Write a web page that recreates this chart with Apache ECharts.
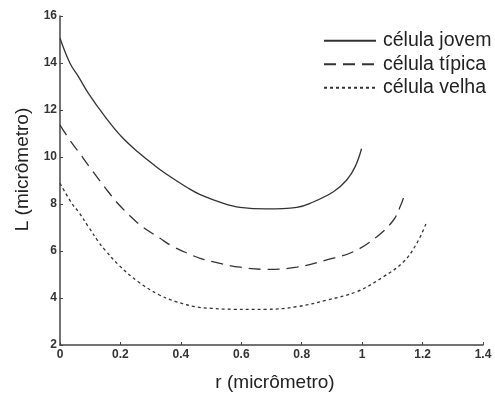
<!DOCTYPE html>
<html>
<head>
<meta charset="utf-8">
<script src="https://cdn.jsdelivr.net/npm/echarts@6/dist/echarts.min.js"></script>
<style>html,body{margin:0;padding:0;background:#fff}#c{width:495px;height:399px}</style>
</head>
<body>
<div id="c"></div>
<script>
var seriesNames = ['célula jovem', 'célula típica', 'célula velha'];
var xTicks = [0, 0.2, 0.4, 0.6, 0.8, 1, 1.2, 1.4];
var yTicks = [2, 4, 6, 8, 10, 12, 14, 16];

var jovem = [[0,15.05],[0.033,13.99],[0.061,13.42],[0.094,12.71],[0.149,11.72],[0.204,10.86],[0.259,10.2],[0.315,9.62],[0.348,9.31],[0.425,8.67],[0.464,8.4],[0.541,8.03],[0.596,7.86],[0.684,7.79],[0.784,7.86],[0.828,8.03],[0.905,8.52],[0.949,9.02],[0.977,9.59],[0.998,10.35]];
var tipica = [[0,11.36],[0.039,10.6],[0.061,10.23],[0.105,9.45],[0.149,8.7],[0.193,8.0],[0.248,7.3],[0.276,7.0],[0.331,6.54],[0.364,6.26],[0.419,5.92],[0.464,5.69],[0.53,5.47],[0.596,5.31],[0.684,5.22],[0.784,5.31],[0.883,5.62],[0.971,5.97],[1.049,6.61],[1.104,7.32],[1.126,7.89],[1.142,8.46]];
var velha = [[0,8.88],[0.039,8.03],[0.061,7.67],[0.094,7.03],[0.127,6.4],[0.149,6.04],[0.193,5.42],[0.259,4.69],[0.326,4.15],[0.381,3.86],[0.447,3.63],[0.502,3.56],[0.574,3.52],[0.684,3.52],[0.784,3.63],[0.883,3.91],[0.982,4.27],[1.071,4.91],[1.137,5.54],[1.181,6.33],[1.212,7.18]];

var ink = '#333';
var font = 'Liberation Sans, Arial, Helvetica';
var chart = echarts.init(document.getElementById('c'), null, {renderer: 'canvas'});
function mk(name, data, type) {
  return {
    name: name, type: 'line', data: data, smooth: 0.4,
    showSymbol: false, symbol: 'none',
    lineStyle: {color: ink, width: 1.3, type: type},
    itemStyle: {color: ink},
    animation: false
  };
}
chart.setOption({
  animation: false,
  backgroundColor: '#fff',
  grid: {left: 60, right: 12, top: 16, bottom: 54},
  legend: {
    orient: 'vertical', left: 318, top: 24,
    itemWidth: 52, itemHeight: 14, itemGap: 0,
    itemStyle: {opacity: 0},
    textStyle: {fontFamily: font, fontSize: 19.5, lineHeight: 23.5, color: '#222', padding: [0,0,0,2]},
    data: seriesNames
  },
  xAxis: {
    type: 'value', min: 0, max: 1.4, interval: 0.2,
    name: 'r (micrômetro)', nameLocation: 'middle', nameGap: 28,
    nameTextStyle: {fontFamily: font, fontSize: 19, color: '#222', padding: [0,0,0,7]},
    axisLine: {show: true, lineStyle: {color: '#444', width: 1.5}},
    axisTick: {show: true, inside: true, length: 3, lineStyle: {color: '#444'}},
    splitLine: {show: false},
    axisLabel: {fontFamily: font, fontSize: 12, fontWeight: 'bold', color: '#333', margin: 4,
      formatter: function (v) { var r = Math.round(v * 10) / 10; return xTicks.indexOf(r) >= 0 ? String(r) : ''; }}
  },
  yAxis: {
    type: 'value', min: 2, max: 16, interval: 2,
    name: 'L (micrômetro)', nameLocation: 'middle', nameGap: 28, nameRotate: 90,
    nameTextStyle: {fontFamily: font, fontSize: 19, color: '#222', padding: [0,0,0,22]},
    axisLine: {show: true, lineStyle: {color: '#444', width: 1.5}},
    axisTick: {show: true, inside: true, length: 3, lineStyle: {color: '#444'}},
    splitLine: {show: false},
    axisLabel: {fontFamily: font, fontSize: 12, fontWeight: 'bold', color: '#333', margin: 3,
      formatter: function (v) { return yTicks.indexOf(v) >= 0 ? String(v) : ''; }}
  },
  series: [
    mk(seriesNames[0], jovem, 'solid'),
    mk(seriesNames[1], tipica, [12, 7]),
    mk(seriesNames[2], velha, [3, 3])
  ]
});
</script>
</body>
</html>
